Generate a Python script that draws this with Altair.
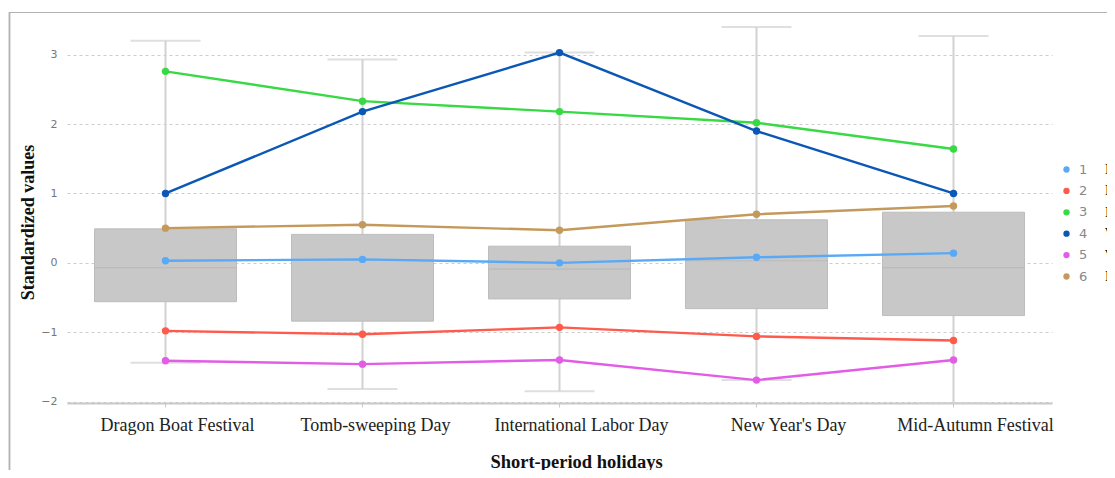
import altair as alt
import pandas as pd

# ---------------- data ----------------
holidays = ["Dragon Boat Festival", "Tomb-sweeping Day", "International Labor Day",
            "New Year's Day", "Mid-Autumn Festival"]

box_lower = [-1.44, -1.82, -1.85, -1.69, -2.02]
box_q1 = [-0.56, -0.84, -0.52, -0.66, -0.76]
box_median = [-0.07, 0.04, -0.09, 0.03, -0.07]
box_q3 = [0.49, 0.41, 0.24, 0.62, 0.73]
box_upper = [3.20, 2.93, 3.03, 3.40, 3.27]

cluster_ids = ["1", "2", "3", "4", "5", "6"]
cluster_types = ["II", "I", "IV", "VI", "V", "III"]
cluster_colors = ["#5aa9f6", "#ff5a4c", "#38d944", "#0b57b5", "#e25ce6", "#c49a5c"]

s1 = [0.03, 0.05, 0.00, 0.08, 0.14]
s2 = [-0.98, -1.03, -0.93, -1.06, -1.12]
s3 = [2.76, 2.33, 2.18, 2.02, 1.64]
s4 = [1.00, 2.18, 3.03, 1.90, 1.00]
s5 = [-1.41, -1.46, -1.40, -1.69, -1.40]
s6 = [0.50, 0.55, 0.47, 0.70, 0.82]
series = [s1, s2, s3, s4, s5, s6]

y_ticks = [-2, -1, 0, 1, 2, 3]

# ---------------- tables ----------------
box_df = pd.DataFrame({
    "holiday": holidays, "lower": box_lower, "q1": box_q1,
    "median": box_median, "q3": box_q3, "upper": box_upper,
})
rows = []
for cid, ctype, vals in zip(cluster_ids, cluster_types, series):
    for h, v in zip(holidays, vals):
        rows.append({"holiday": h, "cluster": cid, "type": ctype, "value": v})
line_df = pd.DataFrame(rows)

W, H = 985, 383
serif = "Liberation Serif"

label_shift = {"condition": {"test": "true",
                             "expr": "datum.value == 'Dragon Boat Festival' ? 12 : "
                                     "datum.value == 'Tomb-sweeping Day' ? 13 : "
                                     "indexof(datum.value, 'New') == 0 ? 32 : 22"},
               "value": 20}

x_enc = alt.X("holiday:N", sort=holidays, title="Short-period holidays",
              scale=alt.Scale(paddingInner=0, paddingOuter=0),
              axis=alt.Axis(labelAngle=0, labelFont=serif, labelFontSize=18,
                            labelColor="#222222", labelPadding=9,
                            labelOffset=label_shift,
                            titleFont=serif, titleFontSize=18.5, titleFontWeight="bold",
                            titleColor="#111111", titlePadding=18, titleX=509,
                            domainColor="#c8c8c8", domainWidth=2,
                            tickColor="#c8c8c8", tickSize=4, grid=False))
y_scale = alt.Scale(domain=[-2.02, 3.5], nice=False, zero=False)

base = alt.Chart(box_df)

whisker = base.mark_rule(color="#d2d2d2", strokeWidth=2).encode(
    x=x_enc,
    y=alt.Y("lower:Q", scale=y_scale, title="Standardized values",
            axis=alt.Axis(values=y_ticks, format="d", labelFont="DejaVu Sans", labelFontSize=11,
                          labelColor="#777777", labelPadding=10, ticks=False,
                          domain=False, gridColor="#cccccc", gridDash=[3, 3],
                          gridWidth=1.2,
                          titleFont=serif, titleFontSize=18, titleFontWeight="bold",
                          titleColor="#111111", titlePadding=3, titleY=202)),
    y2="upper:Q",
)
cap_hi = base.mark_tick(color="#d2d2d2", size=70, thickness=2, orient="horizontal").encode(
    x=alt.X("holiday:N", sort=holidays), y=alt.Y("upper:Q", scale=y_scale))
cap_lo = base.mark_tick(color="#d2d2d2", size=70, thickness=2, orient="horizontal").encode(
    x=alt.X("holiday:N", sort=holidays), y=alt.Y("lower:Q", scale=y_scale))
box = base.mark_bar(size=142, color="#c8c8c8", stroke="#bdbdbd", strokeWidth=1).encode(
    x=alt.X("holiday:N", sort=holidays), y=alt.Y("q1:Q", scale=y_scale), y2="q3:Q")
median = base.mark_tick(color="#b5b5b5", size=142, thickness=1.2, orient="horizontal").encode(
    x=alt.X("holiday:N", sort=holidays), y=alt.Y("median:Q", scale=y_scale))

color_scale = alt.Scale(domain=cluster_ids, range=cluster_colors)
lbase = alt.Chart(line_df)
lines = lbase.mark_line(strokeWidth=2.4).encode(
    x=alt.X("holiday:N", sort=holidays),
    y=alt.Y("value:Q", scale=y_scale),
    stroke=alt.Stroke("cluster:N", scale=alt.Scale(range=cluster_colors), legend=None),
    detail="cluster:N",
)
points = lbase.mark_point(filled=True, size=55, opacity=1).encode(
    x=alt.X("holiday:N", sort=holidays),
    y=alt.Y("value:Q", scale=y_scale),
    color=alt.Color("cluster:N", scale=color_scale, title="c",
                    legend=alt.Legend(orient="none", legendX=993, legendY=142,
                                      symbolType="circle", symbolSize=40,
                                      titleFontSize=1, titlePadding=0, titleColor="white",
                                      labelFont="DejaVu Sans", labelFontSize=13,
                                      labelColor="#888888", labelOffset=6,
                                      rowPadding=7.4, padding=0)),
)
roman = lbase.mark_point(opacity=0).encode(
    x=alt.X("holiday:N", sort=holidays),
    y=alt.Y("value:Q", scale=y_scale),
    shape=alt.Shape("type:N", sort=cluster_types,
                    scale=alt.Scale(domain=cluster_types, range=["circle"] * 6),
                    title="t",
                    legend=alt.Legend(orient="none", legendX=1024, legendY=142,
                                      symbolSize=0, symbolOpacity=0,
                                      titleFontSize=1, titlePadding=0, titleColor="white",
                                      labelFont=serif, labelFontSize=14,
                                      labelFontWeight="bold", labelColor="#111111",
                                      labelOffset=0, rowPadding=7.4, padding=0)),
)

frame = alt.Chart(box_df).mark_rect(fill="transparent", stroke="#b3b3b3", strokeWidth=1.2).encode(
    x=alt.value(-57.5), x2=alt.value(1060), y=alt.value(-7.5), y2=alt.value(470))

chart = alt.layer(frame, whisker, cap_hi, cap_lo, box, median, lines, roman, points).properties(
    width=W, height=H,
    padding={"left": 59, "top": 12, "right": 55, "bottom": 67},
    autosize=alt.AutoSizeParams(type="none"),
    background="white",
).configure_view(stroke=None)

chart.save("out.html", embed_options={"renderer": "svg", "actions": False})
